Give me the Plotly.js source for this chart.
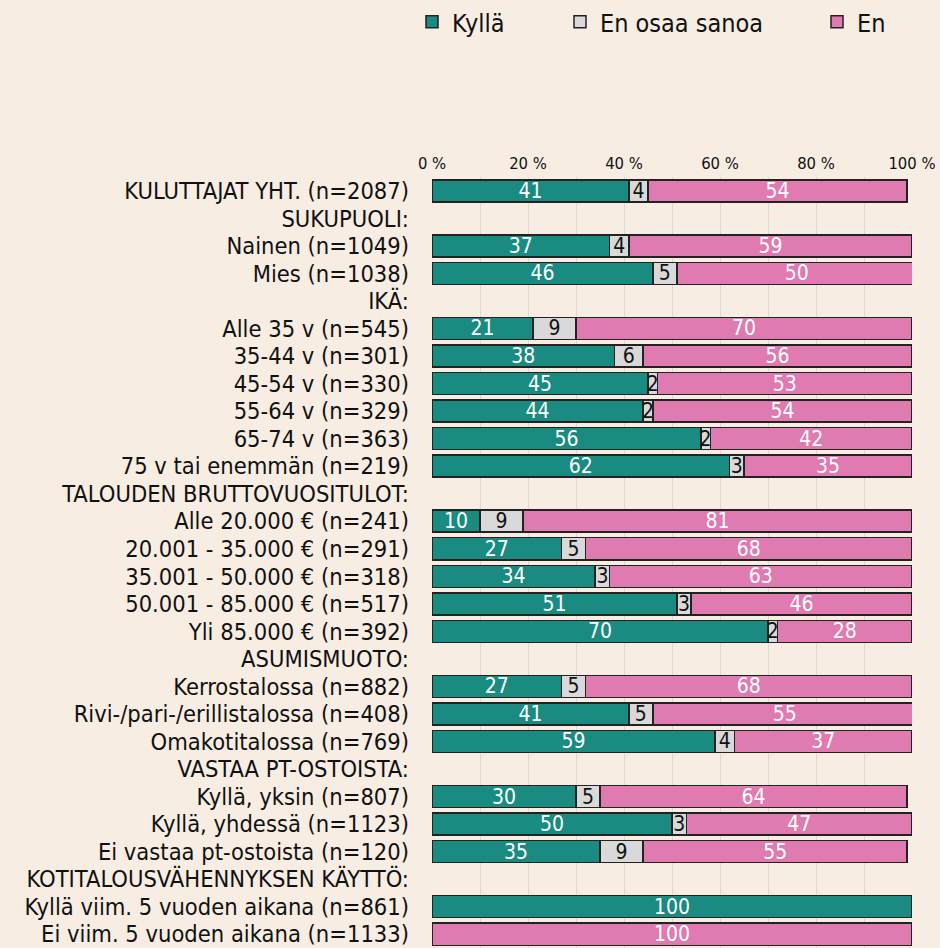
<!DOCTYPE html>
<html>
<head>
<meta charset="utf-8">
<script src="https://cdn.plot.ly/plotly-3.0.1.min.js"></script>
<style>html,body{margin:0;padding:0;background:#f7ede3;}</style>
</head>
<body>
<div id="chart" style="width:940px;height:948px;"></div>
<script>
const categories = [
  "KULUTTAJAT YHT. (n=2087)",
  "SUKUPUOLI:",
  "Nainen (n=1049)",
  "Mies (n=1038)",
  "IKÄ:",
  "Alle 35 v (n=545)",
  "35-44 v (n=301)",
  "45-54 v (n=330)",
  "55-64 v (n=329)",
  "65-74 v (n=363)",
  "75 v tai enemmän (n=219)",
  "TALOUDEN BRUTTOVUOSITULOT:",
  "Alle 20.000 € (n=241)",
  "20.001 - 35.000 € (n=291)",
  "35.001 - 50.000 € (n=318)",
  "50.001 - 85.000 € (n=517)",
  "Yli 85.000 € (n=392)",
  "ASUMISMUOTO:",
  "Kerrostalossa (n=882)",
  "Rivi-/pari-/erillistalossa (n=408)",
  "Omakotitalossa (n=769)",
  "VASTAA PT-OSTOISTA:",
  "Kyllä, yksin (n=807)",
  "Kyllä, yhdessä (n=1123)",
  "Ei vastaa pt-ostoista (n=120)",
  "KOTITALOUSVÄHENNYKSEN KÄYTTÖ:",
  "Kyllä viim. 5 vuoden aikana (n=861)",
  "Ei viim. 5 vuoden aikana (n=1133)"
];
const kylla =  [41,null,37,46,null,21,38,45,44,56,62,null,10,27,34,51,70,null,27,41,59,null,30,50,35,null,100,0];
const eos =    [4,null,4,5,null,9,6,2,2,2,3,null,9,5,3,3,2,null,5,5,4,null,5,3,9,null,0,0];
const en =     [54,null,59,50,null,70,56,53,54,42,35,null,81,68,63,46,28,null,68,55,37,null,64,47,55,null,0,100];

const seriesNames = ["Kyllä", "En osaa sanoa", "En"];
const seriesColors = ["#1a8b81", "#d9d9d9", "#df7bb0"];
const textColors = ["#ffffff", "#111111", "#ffffff"];
const tickVals = [0,20,40,60,80,100];
const tickText = ["0 %","20 %","40 %","60 %","80 %","100 %"];

const FONT = '"DejaVu Sans Condensed", "Liberation Sans Narrow", "Roboto", sans-serif';
const labelOf = v => (v === null || v === 0) ? "" : String(v);

const data = [kylla, eos, en].map((vals, i) => ({
  type: "bar",
  orientation: "h",
  y: categories,
  x: vals,
  name: seriesNames[i],
  legend: i === 0 ? "legend" : (i === 1 ? "legend2" : "legend3"),
  marker: {color: seriesColors[i], line: {color: "#222222", width: 1.5}},
  text: vals.map(labelOf),
  textposition: "inside",
  insidetextanchor: "middle",
  textangle: 0,
  constraintext: "none",
  textfont: {family: FONT, size: 21, color: textColors[i]},
  hoverinfo: "x+y+name"
}));

const legendBase = {
  orientation: "h",
  xref: "container", yref: "container",
  yanchor: "middle", y: 1 - 22/948,
  xanchor: "left",
  bgcolor: "rgba(0,0,0,0)",
  font: {family: FONT, size: 25, color: "#111"}
};

const layout = {
  width: 940, height: 948,
  paper_bgcolor: "#f7ede3",
  plot_bgcolor: "#f7ede3",
  barmode: "stack",
  bargap: 0.2,
  margin: {l: 432, r: 28, t: 177, b: 0},
  font: {family: FONT, color: "#111"},
  showlegend: true,
  legend: Object.assign({}, legendBase, {x: 412/940}),
  legend2: Object.assign({}, legendBase, {x: 560/940}),
  legend3: Object.assign({}, legendBase, {x: 817/940}),
  xaxis: {
    side: "top",
    range: [0, 100],
    tickvals: tickVals,
    ticktext: tickText,
    tickfont: {family: FONT, size: 16.5, color: "#111"},
    showgrid: true,
    gridcolor: "#e0d9d2",
    gridwidth: 1,
    minor: {dtick: 10, showgrid: true, gridcolor: "#e0d9d2", gridwidth: 1},
    zeroline: false,
    showline: false,
    ticks: "",
    ticklabelstandoff: 4,
    fixedrange: true
  },
  yaxis: {
    type: "category",
    autorange: "reversed",
    tickmode: "array",
    tickvals: categories,
    ticktext: categories,
    tickfont: {family: FONT, size: 23.5, color: "#111"},
    ticks: "",
    ticklabelstandoff: 22,
    showgrid: false,
    zeroline: false,
    showline: false,
    fixedrange: true
  }
};

Plotly.newPlot("chart", data, layout, {displayModeBar: false, staticPlot: true});
</script>
</body>
</html>
